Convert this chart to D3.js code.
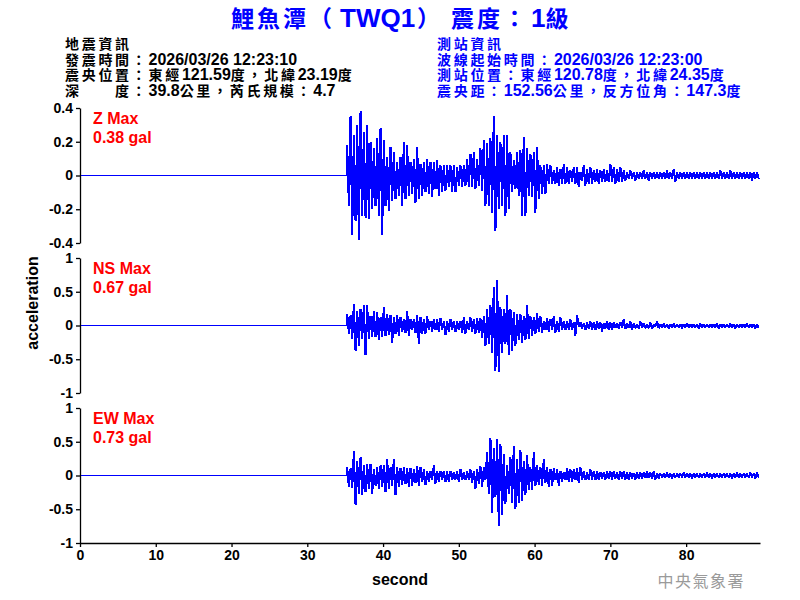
<!DOCTYPE html>
<html><head><meta charset="utf-8">
<script src="https://cdn.jsdelivr.net/npm/d3@7"></script>
<style>body{margin:0;background:#fff}svg{display:block}</style>
</head><body><svg id="c" width="800" height="600"></svg>
<script>
// ---------------- data ----------------
const titleRuns = ["鯉魚潭（", "TWQ1", "）", "震度：", "1", "級"];
const quakeInfo = [
  "地震資訊",
  "發震時間：2026/03/26 12:23:10",
  "震央位置：東經121.59度，北緯23.19度",
  "深　　度：39.8公里，芮氏規模：4.7"
];
const stationInfo = [
  "測站資訊",
  "波線起始時間：2026/03/26 12:23:00",
  "測站位置：東經120.78度，北緯24.35度",
  "震央距：152.56公里，反方位角：147.3度"
];
const componentNames = ["Z", "NS", "EW"];
const peakLabels = ["0.38 gal", "0.67 gal", "0.73 gal"];
const xTicks = [0, 10, 20, 30, 40, 50, 60, 70, 80];
const zTicks = [-0.4, -0.2, 0, 0.2, 0.4];
const nsTicks = [-1, -0.5, 0, 0.5, 1];
const ewTicks = [-1, -0.5, 0, 0.5, 1];
const xLabel = "second";
const yLabel = "acceleration";
const agency = "中央氣象署";

// waveform envelopes (gal): max / min per 0.44 s bin, starting at P arrival
const binStart = 35.18;
const binStep = 0.4397;
const zMax = [0.18,0.35,0.24,0.30,0.38,0.26,0.30,0.20,0.16,0.22,
0.28,0.21,0.11,0.17,0.14,0.08,0.11,0.20,0.18,0.08,
0.10,0.17,0.07,0.08,0.10,0.08,0.08,0.09,0.06,0.06,
0.06,0.06,0.06,0.05,0.06,0.06,0.10,0.13,0.14,0.10,
0.16,0.21,0.19,0.22,0.35,0.24,0.20,0.24,0.24,0.14,
0.09,0.14,0.15,0.23,0.16,0.13,0.14,0.17,0.06,0.06,
0.07,0.06,0.03,0.05,0.04,0.07,0.05,0.03,0.05,0.05,
0.02,0.06,0.04,0.05,0.03,0.04,0.03,0.04,0.03,0.07,
0.05,0.04,0.05,0.03,
0.02,0.03,0.02,0.02,0.02,0.03,0.02,0.02,0.02,0.02,
0.02,0.02,0.03,0.02,0.04,0.02,0.02,0.02,0.02,0.02,
0.02,0.02,0.02,0.02,0.02,0.02,0.02,0.02,0.03,0.02,
0.02,0.03,0.02,0.02,0.02,0.02,0.02,0.02,0.02,0.02];
const zMin = [-0.18,-0.35,-0.27,-0.38,-0.24,-0.25,-0.26,-0.20,-0.18,-0.24,
-0.35,-0.18,-0.21,-0.15,-0.14,-0.12,-0.18,-0.14,-0.12,-0.11,
-0.16,-0.14,-0.12,-0.10,-0.11,-0.13,-0.08,-0.12,-0.10,-0.09,
-0.07,-0.10,-0.10,-0.06,-0.07,-0.06,-0.07,-0.07,-0.08,-0.06,
-0.09,-0.18,-0.18,-0.22,-0.33,-0.20,-0.18,-0.24,-0.20,-0.10,
-0.08,-0.12,-0.24,-0.24,-0.12,-0.13,-0.22,-0.14,-0.11,-0.11,
-0.05,-0.05,-0.05,-0.06,-0.05,-0.05,-0.05,-0.04,-0.05,-0.07,
-0.03,-0.06,-0.05,-0.05,-0.04,-0.05,-0.04,-0.04,-0.04,-0.04,
-0.05,-0.04,-0.04,-0.03,
-0.02,-0.02,-0.03,-0.02,-0.02,-0.02,-0.03,-0.02,-0.02,-0.02,
-0.02,-0.02,-0.02,-0.02,-0.04,-0.02,-0.02,-0.02,-0.02,-0.02,
-0.02,-0.02,-0.02,-0.02,-0.02,-0.02,-0.02,-0.02,-0.02,-0.02,
-0.02,-0.02,-0.02,-0.02,-0.02,-0.02,-0.02,-0.03,-0.02,-0.02];
const nsMax = [0.17,0.15,0.32,0.22,0.25,0.31,0.30,0.14,0.22,0.20,
0.12,0.27,0.17,0.15,0.12,0.16,0.12,0.10,0.21,0.10,
0.09,0.16,0.12,0.09,0.14,0.07,0.10,0.09,0.11,0.06,
0.07,0.09,0.07,0.07,0.07,0.12,0.06,0.12,0.10,0.11,
0.11,0.14,0.24,0.30,0.57,0.68,0.27,0.25,0.45,0.25,
0.20,0.17,0.17,0.14,0.30,0.14,0.12,0.19,0.14,0.06,
0.11,0.10,0.14,0.07,0.12,0.07,0.07,0.09,0.05,0.16,
0.05,0.04,0.05,0.06,0.05,0.07,0.05,0.04,0.07,0.05,
0.05,0.04,0.05,0.09,0.04,0.06,0.04,0.02,0.06,0.04,
0.02,0.05,0.02,0.06,
0.02,0.03,0.02,0.02,0.03,0.02,0.02,0.02,0.03,0.02,
0.02,0.02,0.03,0.02,0.02,0.02,0.02,0.03,0.02,0.02,
0.02,0.03,0.02,0.02,0.02,0.02,0.03,0.02,0.02,0.02];
const nsMin = [-0.12,-0.20,-0.37,-0.30,-0.20,-0.44,-0.20,-0.17,-0.17,-0.22,
-0.17,-0.15,-0.14,-0.26,-0.12,-0.15,-0.10,-0.11,-0.15,-0.07,
-0.11,-0.27,-0.12,-0.12,-0.07,-0.09,-0.07,-0.10,-0.07,-0.14,
-0.09,-0.07,-0.10,-0.07,-0.11,-0.12,-0.07,-0.10,-0.12,-0.11,
-0.19,-0.30,-0.27,-0.40,-0.67,-0.69,-0.40,-0.27,-0.44,-0.37,
-0.30,-0.22,-0.26,-0.22,-0.20,-0.15,-0.12,-0.10,-0.11,-0.07,
-0.09,-0.07,-0.11,-0.09,-0.07,-0.07,-0.06,-0.07,-0.15,-0.02,
-0.05,-0.07,-0.05,-0.06,-0.07,-0.05,-0.09,-0.05,-0.06,-0.07,
-0.04,-0.05,-0.04,-0.05,-0.04,-0.07,-0.04,-0.05,-0.04,-0.04,
-0.04,-0.05,-0.02,-0.04,
-0.03,-0.03,-0.04,-0.03,-0.03,-0.03,-0.04,-0.03,-0.03,-0.03,
-0.03,-0.04,-0.03,-0.03,-0.03,-0.03,-0.03,-0.04,-0.03,-0.03,
-0.03,-0.03,-0.04,-0.03,-0.03,-0.03,-0.03,-0.03,-0.04,-0.03];
const ewMax = [0.12,0.11,0.36,0.21,0.27,0.16,0.17,0.17,0.10,0.12,
0.15,0.16,0.25,0.12,0.24,0.12,0.11,0.12,0.11,0.11,
0.09,0.14,0.12,0.09,0.07,0.06,0.15,0.07,0.06,0.07,
0.06,0.07,0.05,0.06,0.10,0.05,0.06,0.09,0.07,0.10,
0.14,0.12,0.35,0.56,0.40,0.54,0.47,0.32,0.16,0.27,
0.44,0.25,0.38,0.22,0.30,0.12,0.34,0.15,0.12,0.24,
0.12,0.10,0.11,0.10,0.07,0.05,0.11,0.09,0.10,0.11,
0.12,0.07,0.05,0.09,0.06,0.06,0.05,0.05,0.06,0.06,
0.06,0.05,0.06,0.06,0.05,0.05,0.04,0.05,0.05,0.05,
0.06,0.05,0.06,0.04,
0.03,0.03,0.04,0.03,0.03,0.03,0.03,0.04,0.03,0.03,
0.03,0.03,0.03,0.03,0.04,0.03,0.03,0.03,0.03,0.03,
0.03,0.03,0.03,0.04,0.03,0.03,0.03,0.04,0.03,0.04];
const ewMin = [-0.17,-0.19,-0.43,-0.27,-0.29,-0.25,-0.20,-0.27,-0.15,-0.20,
-0.17,-0.24,-0.20,-0.15,-0.29,-0.17,-0.14,-0.12,-0.17,-0.15,
-0.11,-0.15,-0.10,-0.14,-0.10,-0.06,-0.12,-0.09,-0.07,-0.10,
-0.09,-0.07,-0.06,-0.10,-0.07,-0.07,-0.06,-0.11,-0.20,-0.12,
-0.17,-0.07,-0.27,-0.55,-0.32,-0.75,-0.59,-0.42,-0.27,-0.40,
-0.49,-0.40,-0.37,-0.29,-0.22,-0.22,-0.15,-0.14,-0.15,-0.11,
-0.17,-0.16,-0.07,-0.15,-0.09,-0.07,-0.09,-0.10,-0.07,-0.11,
-0.07,-0.07,-0.06,-0.06,-0.07,-0.06,-0.05,-0.06,-0.05,-0.06,
-0.05,-0.06,-0.05,-0.06,-0.06,-0.05,-0.06,-0.05,-0.05,-0.04,
-0.04,-0.05,-0.06,-0.04,
-0.03,-0.03,-0.03,-0.04,-0.03,-0.03,-0.03,-0.03,-0.03,-0.04,
-0.03,-0.03,-0.03,-0.03,-0.03,-0.04,-0.03,-0.03,-0.03,-0.03,
-0.03,-0.04,-0.03,-0.03,-0.03,-0.03,-0.03,-0.03,-0.04,-0.03];

// ---------------- drawing ----------------
const LATIN = "'Liberation Sans', Arial, sans-serif";
const CJK = "'Noto Sans CJK TC', 'Noto Sans CJK SC', sans-serif";
const BLUE = "#0000ff";
const svg = d3.select("#c");
svg.append("rect").attr("width", 800).attr("height", 600).attr("fill", "#fff");

const cjkTest = /[\u3000-\u303f\u3400-\u9fff\uff00-\uffef]/;
const cjkRe = /[\u3000-\u303f\u3400-\u9fff\uff00-\uffef]+|[^\u3000-\u303f\u3400-\u9fff\uff00-\uffef]+/g;
function mixedText(g, str, x, y, o) {
  const t = g.append("text").attr("x", x).attr("y", y).attr("fill", o.color)
    .attr("font-weight", "bold").attr("text-anchor", o.anchor || "start");
  (str.match(cjkRe) || []).forEach(run => {
    const isCjk = cjkTest.test(run);
    t.append("tspan").text(run)
      .attr("font-family", isCjk ? CJK : LATIN)
      .attr("font-size", isCjk ? o.cjkSize : o.latinSize)
      .attr("letter-spacing", isCjk ? o.cjkSpace : 0);
  });
  return t;
}

// title
const titleGaps = [0, 5, 2, 8, 2, 0];
const tt = svg.append("text").attr("x", 231).attr("y", 27).attr("fill", BLUE).attr("font-weight", "bold");
titleRuns.forEach((run, i) => {
  const isCjk = cjkTest.test(run);
  tt.append("tspan").text(run).attr("dx", titleGaps[i])
    .attr("font-family", isCjk ? CJK : LATIN)
    .attr("font-size", isCjk ? 23 : 26)
    .attr("letter-spacing", isCjk ? 3 : 0);
});

// header info
const lineY = [49, 64.5, 80, 95.5];
const hdr = {latinSize: 16, cjkSize: 14, cjkSpace: 2.7};
quakeInfo.forEach((s, i) => mixedText(svg, s, 65, lineY[i], Object.assign({color: "#000"}, hdr)));
stationInfo.forEach((s, i) => mixedText(svg, s, 437, lineY[i], Object.assign({color: BLUE}, hdr)));

const x = d3.scaleLinear().domain([0, 89.75]).range([80, 760]);

const panels = [
  {name: componentNames[0], peak: peakLabels[0], top: 108, dom: [-0.4, 0.4], ticks: zTicks, mx: zMax, mn: zMin},
  {name: componentNames[1], peak: peakLabels[1], top: 258, dom: [-1, 1], ticks: nsTicks, mx: nsMax, mn: nsMin},
  {name: componentNames[2], peak: peakLabels[2], top: 408, dom: [-1, 1], ticks: ewTicks, mx: ewMax, mn: ewMin}
];
const panelH = 135;

panels.forEach((p, pi) => {
  const y = d3.scaleLinear().domain(p.dom).range([p.top + panelH, p.top]);
  const g = svg.append("g");
  // pre-event baseline
  g.append("path").datum([[0, 0], [binStart, 0]])
    .attr("d", d3.line().x(d => x(d[0])).y(d => y(d[1])))
    .attr("fill", "none").attr("stroke", BLUE).attr("stroke-width", 1)
    .attr("shape-rendering", "crispEdges");
  // waveform: zigzag through each bin's max then min
  const n = Math.min(p.mx.length, p.mn.length);
  const pts = [[binStart, 0]];
  for (let i = 0; i < n; i++) {
    pts.push([binStart + i * binStep + binStep * 0.2, p.mx[i]]);
    pts.push([binStart + i * binStep + binStep * 0.7, p.mn[i]]);
  }
  g.append("path").datum(pts)
    .attr("d", d3.line().x(d => x(d[0])).y(d => y(d[1])))
    .attr("fill", "none").attr("stroke", BLUE).attr("stroke-width", 2)
    .attr("stroke-linejoin", "bevel").attr("shape-rendering", "crispEdges");

  // y axis
  const ya = g.append("g").attr("transform", "translate(80,0)")
    .call(d3.axisLeft(y).tickValues(p.ticks).tickFormat(d => String(d)).tickSize(4).tickSizeOuter(0).tickPadding(3));
  ya.selectAll("path,line").attr("stroke", "#000").attr("stroke-width", 1.3);
  ya.selectAll("text").attr("font-family", LATIN).attr("font-size", 14).attr("font-weight", "bold").attr("fill", "#000");

  // labels
  g.append("text").attr("x", 93).attr("y", p.top + 16).text(p.name + " Max")
    .attr("font-family", LATIN).attr("font-size", 16).attr("font-weight", "bold").attr("fill", "#ff0000");
  g.append("text").attr("x", 93).attr("y", p.top + 35).text(p.peak)
    .attr("font-family", LATIN).attr("font-size", 16).attr("font-weight", "bold").attr("fill", "#ff0000");

  if (pi === panels.length - 1) {
    const xa = g.append("g").attr("transform", `translate(0,${p.top + panelH})`)
      .call(d3.axisBottom(x).tickValues(xTicks).tickFormat(d => String(d)).tickSize(4).tickSizeOuter(0).tickPadding(3));
    xa.selectAll("path,line").attr("stroke", "#000").attr("stroke-width", 1.3);
    xa.selectAll("text").attr("font-family", LATIN).attr("font-size", 14).attr("font-weight", "bold").attr("fill", "#000");
  }
});

// axis titles
svg.append("text").attr("x", 400).attr("y", 585).attr("text-anchor", "middle").text(xLabel)
  .attr("font-family", LATIN).attr("font-size", 16).attr("font-weight", "bold");
svg.append("text").attr("transform", "translate(38,303) rotate(-90)").attr("text-anchor", "middle").text(yLabel)
  .attr("font-family", LATIN).attr("font-size", 16).attr("font-weight", "bold");

// agency
svg.append("text").attr("x", 745).attr("y", 587).attr("text-anchor", "end").text(agency)
  .attr("font-family", CJK).attr("font-size", 16).attr("letter-spacing", 1.5)
  .attr("fill", "#9a9a9a");
</script></body></html>
